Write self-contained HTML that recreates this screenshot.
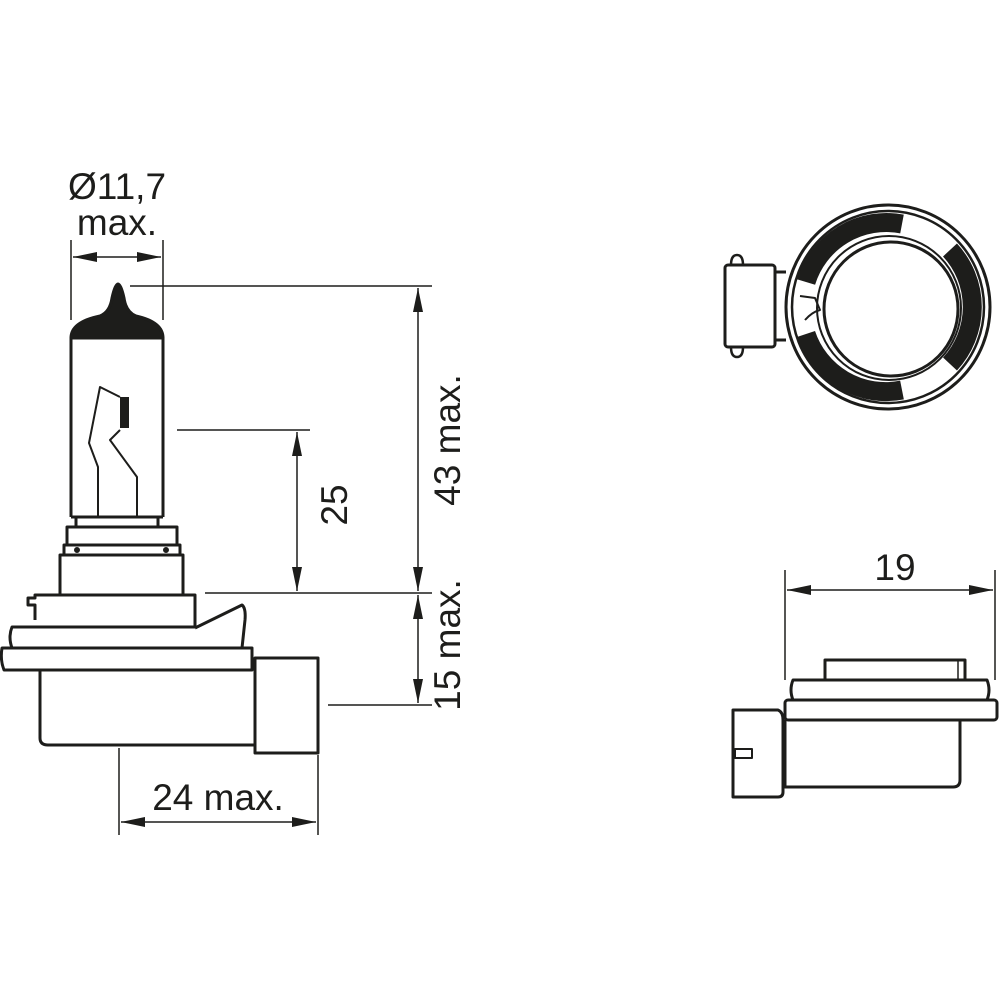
<!DOCTYPE html>
<html><head><meta charset="utf-8"><style>html,body{margin:0;padding:0;background:#fff}svg{display:block}</style></head>
<body>
<svg width="1000" height="1000" viewBox="0 0 1000 1000" xmlns="http://www.w3.org/2000/svg">
<defs>
<marker id="A" viewBox="0 0 24 10" refX="24" refY="5" markerWidth="24" markerHeight="10" markerUnits="userSpaceOnUse" orient="auto-start-reverse"><path d="M0,0 L24,5 L0,10 z" fill="#1d1d1b"/></marker>
</defs>
<g font-family="Liberation Sans, sans-serif" font-size="37" fill="#1d1d1b">
<text x="117" y="199" text-anchor="middle">Ø11,7</text>
<text x="117" y="235" text-anchor="middle">max.</text>
<text x="218" y="810" text-anchor="middle">24 max.</text>
<text x="895" y="580" text-anchor="middle">19</text>
<text transform="translate(460,440) rotate(-90)" text-anchor="middle">43 max.</text>
<text transform="translate(347,505) rotate(-90)" text-anchor="middle">25</text>
<text transform="translate(460,645) rotate(-90)" text-anchor="middle">15 max.</text>
</g>
<g stroke="#1d1d1b" stroke-width="1.5" fill="none">
<line x1="71" y1="240" x2="71" y2="320"/><line x1="163" y1="240" x2="163" y2="320"/>
<line x1="73" y1="257" x2="161" y2="257" marker-start="url(#A)" marker-end="url(#A)"/>
<line x1="130" y1="286" x2="432" y2="286"/>
<line x1="418" y1="288" x2="418" y2="591" marker-start="url(#A)" marker-end="url(#A)"/>
<line x1="177" y1="430" x2="310" y2="430"/>
<line x1="297" y1="432" x2="297" y2="591" marker-start="url(#A)" marker-end="url(#A)"/>
<line x1="205" y1="593" x2="432" y2="593"/>
<line x1="418" y1="595" x2="418" y2="703" marker-start="url(#A)" marker-end="url(#A)"/>
<line x1="328" y1="705" x2="432" y2="705"/>
<line x1="119" y1="748" x2="119" y2="835"/><line x1="318" y1="755" x2="318" y2="835"/>
<line x1="121" y1="822" x2="316" y2="822" marker-start="url(#A)" marker-end="url(#A)"/>
<line x1="785" y1="570" x2="785" y2="680"/><line x1="995" y1="570" x2="995" y2="680"/>
<line x1="787" y1="590" x2="993" y2="590" marker-start="url(#A)" marker-end="url(#A)"/>
</g>
<g stroke="#1d1d1b" stroke-width="3" fill="none" stroke-linejoin="round">
<path d="M71,517 L71,338 L163,338 L163,517" />
<path d="M71,338 Q71,322 100,316 Q110,312 112,298 Q115,284 118,284 Q121,284 124,298 Q126,312 136,316 Q163,322 163,338 Z" fill="#1d1d1b"/>
<path d="M76,517 L76,527 M158,517 L158,527 M71,517 L163,517"/>
<rect x="67" y="527" width="110" height="18"/>
<rect x="64" y="545" width="116" height="10"/>
<rect x="60" y="555" width="123" height="40"/>
<path d="M35,620 L35,605 L28,605 L28,598 L35,598 L35,595 L195,595 L195,628"/>
<path d="M195,628 L242,605 Q246,608 245,620 L242,648"/>
<path d="M12,648 Q8,637 12,627 L195,627 M12,648 L250,648"/>
<path d="M2,648 Q0,660 4,670 L252,670 L252,648 Z"/>
<path d="M40,670 L40,738 Q40,745 48,745 L255,745"/>
<rect x="255" y="658" width="63" height="95"/>
<g stroke-width="2">
<path d="M98,517 L98,467 L89,443 L100,387 L120,397"/>
<path d="M137,517 L137,477 L110,440 L120,430"/>
</g>
<rect x="120" y="397" width="9" height="31" fill="#1d1d1b" stroke="none"/>
<circle cx="77" cy="550" r="1.5" fill="#1d1d1b"/><circle cx="166" cy="550" r="1.5" fill="#1d1d1b"/>
<!-- top view -->
<circle cx="888" cy="307" r="102"/>
<circle cx="888" cy="307" r="96" stroke-width="2.5"/>
<circle cx="891" cy="309" r="67"/>
<circle cx="889" cy="308" r="72" stroke-width="2"/>
<g stroke-width="19" stroke-linejoin="miter">
<path d="M806,282 A84,84 0 0 1 902,224"/>
<path d="M806,334 A84,84 0 0 0 902,390"/>
<path d="M950,250 A84,84 0 0 1 950,364"/>
</g>
<path d="M800,296 L815,298 L820,310 Q812,312 805,320" stroke-width="2"/>
<rect x="725" y="265" width="50" height="82" rx="3"/>
<path d="M731,265 Q731,255 737,255 Q743,255 743,265 M731,347 Q731,357 737,357 Q743,357 743,347" stroke-width="2.5"/>
<path d="M775,272 L786,272 M775,340 L786,340"/>
<!-- side view -->
<rect x="825" y="660" width="140" height="20"/>
<line x1="958" y1="660" x2="958" y2="680" stroke-width="1.5"/>
<path d="M793,680 L987,680 Q991,690 987,700 L793,700 Q789,690 793,680 Z"/>
<rect x="785" y="700" width="212" height="20" rx="3"/>
<path d="M785,720 L785,787 L953,787 Q960,787 960,780 L960,720"/>
<path d="M733,710 L778,710 Q783,712 783,720 L783,792 Q783,797 778,797 L733,797 Z"/>
<rect x="735" y="749" width="17" height="9" stroke-width="2"/>
</g>
</svg>
</body></html>
